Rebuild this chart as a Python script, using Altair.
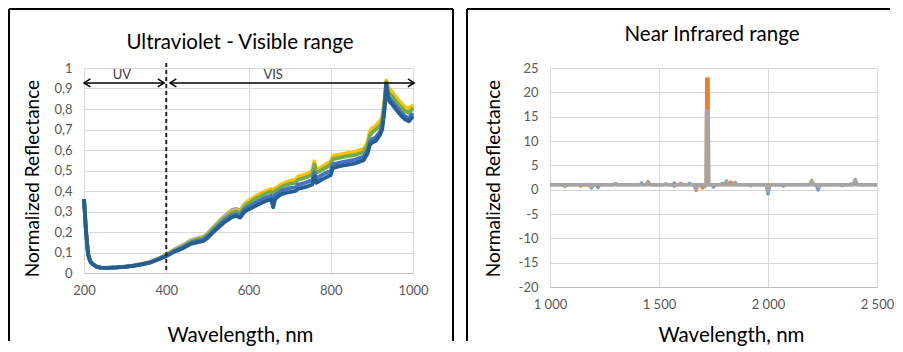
import altair as alt
import pandas as pd

# ---------------- Ultraviolet - Visible range (left panel) ----------------
UV_VIS_WAVELENGTH = [200, 205, 210, 215, 220, 230, 240, 260, 280, 300, 320, 340, 360, 380, 400,
                     420, 440, 460, 480, 490, 500, 520, 540, 560, 570, 580, 590, 600, 620, 640,
                     655, 660, 665, 680, 700, 715, 720, 740, 755, 760, 765, 780, 800, 805, 820,
                     840, 860, 880, 890, 895, 900, 910, 920, 925, 930, 935, 940, 950, 960, 970,
                     980, 990, 1000]

UV_VIS_GRAY = [.36, .20, .09, .058, .045, .032, .027, .026, .028, .032, .037, .044, .054, .07, .09,
               .115, .135, .16, .172, .176, .192, .235, .275, .308, .313, .305, .336, .352, .375, .393,
               .405, .40, .408, .428, .443, .449, .462, .474, .488, .535, .495, .512, .535, .56, .568,
               .577, .585, .598, .632, .68, .695, .71, .73, .75, .82, .935, .895, .87, .845, .82,
               .80, .79, .81]

UV_VIS_YELLOW = [.36, .20, .09, .058, .045, .031, .026, .025, .027, .031, .036, .043, .052, .068, .087,
                 .111, .13, .154, .166, .17, .187, .229, .268, .30, .306, .30, .332, .35, .377, .398,
                 .41, .405, .413, .433, .45, .456, .47, .482, .496, .545, .503, .52, .545, .57, .577,
                 .585, .592, .605, .64, .69, .705, .72, .74, .76, .83, .94, .905, .88, .855, .83,
                 .81, .80, .82]

UV_VIS_GREEN = [.36, .20, .09, .058, .045, .031, .026, .025, .027, .031, .036, .043, .052, .068, .086,
                .11, .128, .152, .164, .168, .184, .226, .264, .294, .30, .293, .324, .34, .365, .385,
                .398, .39, .40, .42, .435, .44, .455, .466, .48, .53, .488, .505, .528, .555, .562,
                .57, .576, .59, .625, .67, .685, .70, .72, .74, .81, .93, .88, .86, .835, .81,
                .79, .78, .805]

UV_VIS_BLUE = [.36, .20, .09, .058, .045, .031, .026, .025, .027, .03, .035, .042, .051, .067, .084,
               .107, .124, .147, .158, .162, .177, .218, .254, .282, .288, .281, .31, .323, .345, .366,
               .377, .355, .38, .402, .414, .418, .43, .441, .454, .49, .462, .48, .50, .53, .537,
               .546, .553, .568, .60, .64, .652, .663, .69, .715, .79, .92, .86, .835, .81, .785,
               .765, .755, .78]

UV_VIS_DARKBLUE = [.36, .20, .09, .058, .045, .031, .026, .025, .027, .03, .035, .042, .05, .066, .082,
                   .104, .12, .142, .152, .156, .17, .21, .245, .272, .278, .27, .298, .31, .33, .35,
                   .36, .32, .362, .385, .395, .40, .41, .42, .432, .47, .44, .458, .478, .512, .52,
                   .528, .535, .55, .585, .625, .635, .645, .675, .70, .78, .915, .845, .82, .795, .77,
                   .75, .74, .765]

UV_VIS_SERIES = [("gray", UV_VIS_GRAY), ("yellow", UV_VIS_YELLOW), ("green", UV_VIS_GREEN),
                 ("blue", UV_VIS_BLUE), ("darkblue", UV_VIS_DARKBLUE)]

UV_X_TICKS = [200, 400, 600, 800, 1000]
UV_Y_TICKS = [0, 0.1, 0.2, 0.3, 0.4, 0.5, 0.6, 0.7, 0.8, 0.9, 1]

UV_VIS_BOUNDARY = 400          # dashed separator
BOUNDARY_TOP = 1.025
ARROW_LEVEL = 0.927
UV_ARROW = [200, 395]
VIS_ARROW = [409, 1003]
REGION_LABELS = ["UV", "VIS"]
REGION_LABEL_X = [292, 660]
REGION_LABEL_Y = [0.967, 0.967]

# ---------------- Near Infrared range (right panel) ----------------
NIR_BLUE_WL = [1000, 1180, 1190, 1200, 1210, 1220, 1230, 1410, 1420, 1430, 1560, 1570, 1580,
               1630, 1640, 1650, 1740, 1750, 1760, 1780, 1790, 1800, 1990, 2000, 2010, 2060,
               2070, 2080, 2220, 2230, 2240, 2330, 2340, 2350, 2370, 2380, 2390, 2500]
NIR_BLUE = [1, 1, 0.3, 1, 1, 0.4, 1, 1, 1.4, 1, 1, 1.4, 1,
            1, 1.3, 1, 1, 0.5, 1, 1, 1.3, 1, 1, -0.9, 1, 1,
            0.7, 1, 1, -0.1, 1, 1, 0.8, 1, 1, 1.2, 1, 1]

NIR_ORANGE_WL = [1000, 1060, 1070, 1080, 1130, 1140, 1150, 1290, 1300, 1310, 1440, 1450, 1460,
                 1520, 1530, 1540, 1590, 1600, 1610, 1660, 1670, 1680, 1690, 1700, 1710, 1716,
                 1718, 1726, 1728, 1740, 1820, 1830, 1840, 2190, 2200, 2210, 2390, 2400, 2410, 2500]
NIR_ORANGE = [1, 1, 0.6, 1, 1, 0.7, 1, 1, 1.3, 1, 1, 1.7, 1,
              1, 1.2, 1, 1, 1.3, 1, 1, -0.2, 1, 1, 0.3, 1, 1,
              22.8, 22.8, 1, 1, 1, 1.6, 1, 1, 1.9, 1, 1, 1.8, 1, 1]

NIR_GRAY_WL = [1000, 1060, 1070, 1080, 1180, 1190, 1200, 1290, 1300, 1310, 1440, 1450, 1460,
               1520, 1530, 1540, 1560, 1570, 1580, 1660, 1670, 1680, 1700, 1710, 1716, 1718,
               1726, 1728, 1735, 1800, 1810, 1820, 1840, 1850, 1860, 1910, 1920, 1930, 1990,
               2000, 2010, 2190, 2200, 2210, 2225, 2232, 2240, 2390, 2400, 2410, 2500]
NIR_GRAY = [1, 1, 0.8, 1, 1, 0.5, 1, 1, 1.2, 1, 1, 1.4, 1,
            1, 1.1, 1, 1, 0.7, 1, 1, 0.1, 1, 1, 0.6, 1, 16.2,
            16.2, 1, 1, 1, 1.8, 1, 1, 1.5, 1, 1, 0.8, 1, 1,
            -0.3, 1, 1, 1.7, 1, 1, 0.4, 1, 1, 2.1, 1, 1]

NIR_SERIES = [("blue", NIR_BLUE_WL, NIR_BLUE), ("orange", NIR_ORANGE_WL, NIR_ORANGE),
              ("gray", NIR_GRAY_WL, NIR_GRAY)]

NIR_X_TICKS = [1000, 1500, 2000, 2500]
NIR_Y_TICKS = [-20, -15, -10, -5, 0, 5, 10, 15, 20, 25]

# ---------------- styling ----------------
FONT = "Lato"
LABEL_COLOR = "#595959"
GRID = "#D9D9D9"
COLORS = {"gray": "#A5A5A5", "yellow": "#FFC000", "green": "#70AD47", "blue": "#4472C4",
          "darkblue": "#255E91", "orange": "#ED7D31"}
NIR_COLORS = {"blue": "#5B9BD5", "orange": "#ED7D31", "gray": "#A5A5A5"}

LW, LH = 329, 205
RW, RH = 327, 219
ONE = pd.DataFrame({"k": [0]})


def x_axis(values, title, title_x, title_y, label_expr):
    return alt.Axis(values=values, title=title, titleFont=FONT, titleFontSize=20.5,
                    titleFontWeight="normal", titleColor="#000000", titleX=title_x, titleY=title_y,
                    titleAlign="center", titleBaseline="middle", labelFont=FONT, labelFontSize=13,
                    labelColor=LABEL_COLOR, labelPadding=11, ticks=False, grid=True, gridColor=GRID,
                    gridWidth=1, domainColor="#BFBFBF", labelFlush=False, labelOverlap=False,
                    labelExpr=label_expr)


def y_axis(values, title, title_x, title_y, label_expr):
    return alt.Axis(values=values, title=title, titleFont=FONT, titleFontSize=19,
                    titleFontWeight="normal", titleColor="#000000", titleAngle=270,
                    titleX=title_x, titleY=title_y, titleAlign="center", titleBaseline="middle",
                    labelFont=FONT, labelFontSize=13, labelColor=LABEL_COLOR, labelPadding=12,
                    ticks=False, domain=False, grid=True, gridColor=GRID, gridWidth=1,
                    labelExpr=label_expr, labelOverlap=False)


def frame(left, right, top, bottom, open_right=False):
    lines = [alt.Chart(ONE).mark_rule(color="#000000", strokeWidth=2).encode(
                 x=alt.value(left), y=alt.value(top), y2=alt.value(bottom)),
             alt.Chart(ONE).mark_rule(color="#000000", strokeWidth=2).encode(
                 x=alt.value(left), x2=alt.value(right), y=alt.value(top))]
    if not open_right:
        lines.append(alt.Chart(ONE).mark_rule(color="#000000", strokeWidth=2).encode(
            x=alt.value(right), y=alt.value(top), y2=alt.value(bottom)))
    return lines


# ---------- left chart ----------
uv_xs = alt.Scale(domain=[200, 1000], nice=False, zero=False)
uv_ys = alt.Scale(domain=[0, 1], nice=False)
uv_xax = x_axis(UV_X_TICKS, "Wavelength, nm", 156, 62, "'' + datum.value")
uv_yax = y_axis(UV_Y_TICKS, "Normalized Reflectance", -52, 110,
                "replace(format(datum.value, '~g'), '.', ',')")


def uvx(field="w"):
    return alt.X(f"{field}:Q", scale=uv_xs, axis=uv_xax)


def uvy(field="r"):
    return alt.Y(f"{field}:Q", scale=uv_ys, axis=uv_yax)


left_layers = []
for name, vals in UV_VIS_SERIES:
    df = pd.DataFrame({"w": UV_VIS_WAVELENGTH, "r": vals})
    left_layers.append(alt.Chart(df).mark_line(color=COLORS[name], strokeWidth=3.8,
                                               strokeJoin="round").encode(x=uvx(), y=uvy()))

bdf = pd.DataFrame({"w": [UV_VIS_BOUNDARY], "r": [BOUNDARY_TOP], "r2": [0]})
left_layers.append(alt.Chart(bdf).mark_rule(color="#262626", strokeWidth=2, strokeDash=[4, 3]).encode(
    x=uvx(), y=uvy(), y2="r2:Q"))

adf = pd.DataFrame({"w": [UV_ARROW[0], VIS_ARROW[0]], "w2": [UV_ARROW[1], VIS_ARROW[1]],
                    "r": [ARROW_LEVEL, ARROW_LEVEL]})
left_layers.append(alt.Chart(adf).mark_rule(color="#000000", strokeWidth=1.5).encode(
    x=uvx(), x2="w2:Q", y=uvy()))
left_heads = pd.DataFrame({"w": [UV_ARROW[0], VIS_ARROW[0]], "r": [ARROW_LEVEL, ARROW_LEVEL]})
right_heads = pd.DataFrame({"w": [UV_ARROW[1], VIS_ARROW[1]], "r": [ARROW_LEVEL, ARROW_LEVEL]})
left_layers.append(alt.Chart(left_heads).mark_point(shape="M1.6,-1L0,0L1.6,1", size=64, filled=False,
                                                    stroke="#000000", strokeWidth=1.5, opacity=1).encode(
    x=uvx(), y=uvy()))
left_layers.append(alt.Chart(right_heads).mark_point(shape="M-1.6,-1L0,0L-1.6,1", size=64, filled=False,
                                                     stroke="#000000", strokeWidth=1.5, opacity=1).encode(
    x=uvx(), y=uvy()))
ldf = pd.DataFrame({"w": REGION_LABEL_X, "r": REGION_LABEL_Y, "t": REGION_LABELS})
left_layers.append(alt.Chart(ldf).mark_text(font=FONT, fontSize=13, color="#404040",
                                            baseline="middle", align="center").encode(
    x=uvx(), y=uvy(), text="t:N"))
left_layers.append(alt.Chart(ONE).mark_text(text="Ultraviolet - Visible range", font=FONT,
                                            fontSize=20.5, color="#000000", align="center",
                                            baseline="middle").encode(
    x=alt.value(156), y=alt.value(-25)))
left_layers += frame(-75, 369, -59, 273)

left = alt.layer(*left_layers).properties(width=LW, height=LH)

# ---------- right chart ----------
nir_xs = alt.Scale(domain=[1000, 2500], nice=False, zero=False)
nir_ys = alt.Scale(domain=[-20, 25], nice=False)
nir_xax = x_axis(NIR_X_TICKS, "Wavelength, nm", 181, 48,
                 "replace(format(datum.value, ','), ',', ' ')")
nir_yax = y_axis(NIR_Y_TICKS, "Normalized Reflectance", -57, 110, "'' + datum.value")

right_layers = []
for name, wl, vals in NIR_SERIES:
    df = pd.DataFrame({"w": wl, "r": vals})
    right_layers.append(alt.Chart(df).mark_line(color=NIR_COLORS[name],
                                                strokeWidth=3.5 if name == "gray" else 3,
                                                strokeJoin="round").encode(
        x=alt.X("w:Q", scale=nir_xs, axis=nir_xax), y=alt.Y("r:Q", scale=nir_ys, axis=nir_yax)))
right_layers.append(alt.Chart(ONE).mark_text(text="Near Infrared range", font=FONT, fontSize=20.5,
                                             color="#000000", align="center",
                                             baseline="middle").encode(
    x=alt.value(162), y=alt.value(-33)))
right_layers += frame(-83, 340, -59, 273, open_right=True)

right = alt.layer(*right_layers).properties(width=RW, height=RH)

chart = alt.hconcat(left, right, spacing=12).properties(
    padding={"left": 0, "top": 0, "right": 0, "bottom": 0},
    background="#FFFFFF",
).configure_view(strokeWidth=0)

chart.save("out.html", embed_options={"renderer": "svg", "actions": False})
